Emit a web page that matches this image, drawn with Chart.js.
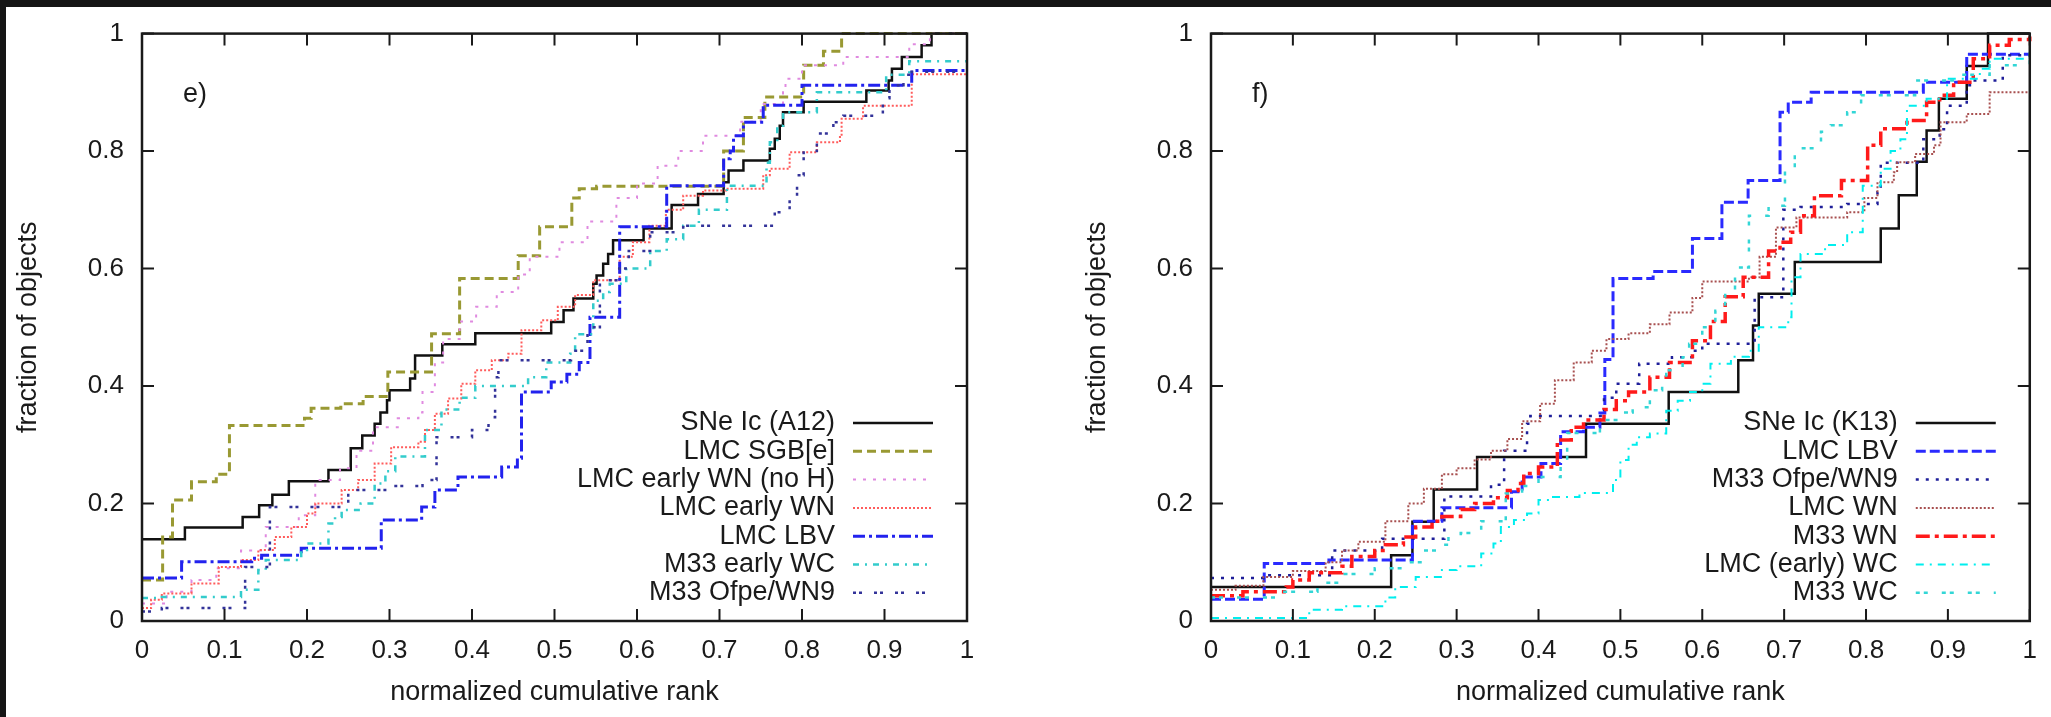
<!DOCTYPE html>
<html>
<head>
<meta charset="utf-8">
<script src="https://cdn.jsdelivr.net/npm/chart.js@4.4.1/dist/chart.umd.min.js"></script>
<style>
  html, body { margin: 0; padding: 0; background: #fff; }
  body { width: 2051px; height: 717px; position: relative; overflow: hidden; }
  #left-chart { position: absolute; left: 0; top: 0; }
  #right-chart { position: absolute; left: 1069px; top: 0; }
  .band-top { position: absolute; left: 0; top: 0; width: 2051px; height: 7px; background: #151515; }
  .band-left { position: absolute; left: 0; top: 0; width: 6px; height: 717px; background: #151515; }
</style>
</head>
<body>
<canvas id="left-chart" width="1069" height="717"></canvas>
<canvas id="right-chart" width="982" height="717"></canvas>
<div class="band-top"></div>
<div class="band-left"></div>
<script>
const xTickLabels = ['0', '0.1', '0.2', '0.3', '0.4', '0.5', '0.6', '0.7', '0.8', '0.9', '1'];
const yTickLabels = ['0', '0.2', '0.4', '0.6', '0.8', '1'];

// panel e)
const snA12X = [0, 0.052, 0.122, 0.142, 0.158, 0.178, 0.226, 0.253, 0.267, 0.282, 0.289, 0.297, 0.3, 0.325, 0.331, 0.364, 0.404, 0.496, 0.511, 0.523, 0.547, 0.551, 0.559, 0.565, 0.571, 0.608, 0.642, 0.674, 0.705, 0.711, 0.729, 0.761, 0.767, 0.773, 0.777, 0.802, 0.878, 0.905, 0.909, 0.921, 0.945, 0.957, 1];
const snA12Y = [0.139, 0.159, 0.177, 0.197, 0.215, 0.238, 0.257, 0.294, 0.316, 0.336, 0.355, 0.376, 0.393, 0.413, 0.452, 0.471, 0.49, 0.509, 0.529, 0.549, 0.574, 0.588, 0.608, 0.625, 0.648, 0.668, 0.708, 0.727, 0.747, 0.767, 0.784, 0.804, 0.821, 0.843, 0.866, 0.884, 0.903, 0.92, 0.94, 0.96, 0.98, 1, 1];
const sgbX = [0, 0.025, 0.037, 0.06, 0.09, 0.106, 0.197, 0.205, 0.241, 0.268, 0.298, 0.351, 0.385, 0.456, 0.482, 0.521, 0.53, 0.551, 0.705, 0.729, 0.755, 0.802, 0.826, 0.848, 1];
const sgbY = [0.07, 0.143, 0.206, 0.237, 0.25, 0.333, 0.345, 0.362, 0.37, 0.382, 0.424, 0.489, 0.583, 0.622, 0.671, 0.72, 0.736, 0.74, 0.8, 0.857, 0.892, 0.946, 0.97, 1, 1];
const earlyWnNoHX = [0, 0.03, 0.06, 0.09, 0.12, 0.15, 0.19, 0.21, 0.24, 0.26, 0.28, 0.31, 0.335, 0.34, 0.355, 0.365, 0.385, 0.405, 0.43, 0.456, 0.47, 0.506, 0.54, 0.575, 0.6, 0.625, 0.65, 0.68, 0.725, 0.75, 0.777, 0.78, 0.8, 0.85, 0.93, 0.955, 1];
const earlyWnNoHY = [0.03, 0.05, 0.07, 0.09, 0.12, 0.16, 0.18, 0.24, 0.26, 0.29, 0.33, 0.345, 0.355, 0.39, 0.44, 0.48, 0.51, 0.535, 0.56, 0.59, 0.62, 0.645, 0.68, 0.72, 0.745, 0.775, 0.8, 0.826, 0.85, 0.88, 0.9, 0.923, 0.946, 0.96, 0.982, 1, 1];
const earlyWnX = [0, 0.011, 0.024, 0.06, 0.093, 0.12, 0.141, 0.161, 0.181, 0.2, 0.21, 0.242, 0.262, 0.282, 0.302, 0.335, 0.343, 0.355, 0.371, 0.387, 0.404, 0.424, 0.444, 0.46, 0.484, 0.504, 0.525, 0.547, 0.579, 0.595, 0.615, 0.635, 0.656, 0.68, 0.708, 0.753, 0.761, 0.785, 0.818, 0.846, 0.848, 0.874, 0.933, 1];
const earlyWnY = [0.022, 0.036, 0.047, 0.064, 0.092, 0.104, 0.121, 0.143, 0.16, 0.183, 0.2, 0.223, 0.24, 0.268, 0.296, 0.305, 0.325, 0.353, 0.379, 0.404, 0.427, 0.444, 0.455, 0.495, 0.512, 0.535, 0.555, 0.58, 0.62, 0.645, 0.673, 0.7, 0.724, 0.733, 0.736, 0.759, 0.77, 0.798, 0.815, 0.826, 0.855, 0.877, 0.931, 0.934];
const lbvLeftX = [0, 0.048, 0.133, 0.145, 0.193, 0.29, 0.339, 0.355, 0.383, 0.436, 0.455, 0.46, 0.496, 0.515, 0.53, 0.543, 0.579, 0.636, 0.705, 0.713, 0.717, 0.729, 0.753, 0.8, 0.933, 1];
const lbvLeftY = [0.073, 0.101, 0.107, 0.112, 0.124, 0.172, 0.194, 0.223, 0.245, 0.262, 0.277, 0.39, 0.407, 0.42, 0.44, 0.517, 0.671, 0.741, 0.787, 0.8, 0.826, 0.849, 0.878, 0.912, 0.937, 0.937];
const earlyWcX = [0, 0.024, 0.12, 0.141, 0.15, 0.193, 0.2, 0.226, 0.234, 0.242, 0.265, 0.282, 0.295, 0.307, 0.343, 0.363, 0.385, 0.404, 0.468, 0.49, 0.519, 0.525, 0.547, 0.559, 0.567, 0.587, 0.616, 0.636, 0.656, 0.675, 0.709, 0.757, 0.761, 0.77, 0.777, 0.818, 0.902, 0.93, 1];
const earlyWcY = [0.039, 0.041, 0.053, 0.087, 0.104, 0.121, 0.132, 0.166, 0.177, 0.189, 0.2, 0.234, 0.255, 0.28, 0.325, 0.36, 0.38, 0.4, 0.415, 0.44, 0.455, 0.488, 0.545, 0.56, 0.574, 0.6, 0.63, 0.65, 0.673, 0.7, 0.741, 0.78, 0.815, 0.843, 0.866, 0.9, 0.93, 0.953, 0.953];
const ofpeLeftX = [0, 0.024, 0.125, 0.155, 0.25, 0.3, 0.34, 0.357, 0.4, 0.42, 0.428, 0.432, 0.52, 0.54, 0.555, 0.575, 0.59, 0.616, 0.656, 0.767, 0.785, 0.794, 0.802, 0.818, 0.838, 0.85, 0.898, 0.906, 0.923, 0.933, 1];
const ofpeLeftY = [0.016, 0.022, 0.092, 0.194, 0.223, 0.23, 0.24, 0.313, 0.325, 0.347, 0.415, 0.444, 0.46, 0.5, 0.58, 0.6, 0.63, 0.662, 0.673, 0.696, 0.719, 0.759, 0.8, 0.83, 0.849, 0.86, 0.89, 0.912, 0.93, 0.935, 0.935];

// panel f)
const snK13X = [0, 0.22, 0.246, 0.272, 0.325, 0.458, 0.559, 0.644, 0.662, 0.669, 0.713, 0.818, 0.84, 0.862, 0.874, 0.889, 0.923, 0.949, 1];
const snK13Y = [0.058, 0.112, 0.169, 0.224, 0.279, 0.336, 0.39, 0.444, 0.503, 0.557, 0.611, 0.668, 0.725, 0.782, 0.835, 0.889, 0.945, 1, 1];
const lbvRightX = [0, 0.065, 0.144, 0.246, 0.282, 0.367, 0.38, 0.403, 0.427, 0.455, 0.475, 0.481, 0.491, 0.54, 0.588, 0.624, 0.656, 0.695, 0.705, 0.733, 0.87, 0.923, 1];
const lbvRightY = [0.037, 0.098, 0.104, 0.17, 0.193, 0.22, 0.245, 0.268, 0.322, 0.33, 0.354, 0.445, 0.583, 0.595, 0.651, 0.713, 0.75, 0.866, 0.883, 0.9, 0.917, 0.965, 0.965];
const ofpeRightX = [0, 0.064, 0.148, 0.209, 0.285, 0.342, 0.358, 0.386, 0.39, 0.48, 0.495, 0.523, 0.563, 0.588, 0.6, 0.664, 0.699, 0.72, 0.777, 0.814, 0.818, 0.87, 0.89, 0.899, 0.923, 0.93, 0.967, 1];
const ofpeRightY = [0.073, 0.078, 0.12, 0.14, 0.212, 0.232, 0.29, 0.336, 0.349, 0.38, 0.404, 0.438, 0.449, 0.46, 0.472, 0.551, 0.7, 0.705, 0.71, 0.73, 0.78, 0.82, 0.837, 0.877, 0.912, 0.92, 0.963, 0.965];
const lmcWnX = [0, 0.03, 0.064, 0.1, 0.14, 0.16, 0.18, 0.213, 0.241, 0.26, 0.282, 0.3, 0.322, 0.342, 0.362, 0.38, 0.402, 0.42, 0.443, 0.465, 0.483, 0.51, 0.536, 0.56, 0.588, 0.6, 0.657, 0.67, 0.69, 0.715, 0.777, 0.798, 0.814, 0.834, 0.838, 0.86, 0.883, 0.891, 0.923, 0.951, 1];
const lmcWnY = [0.053, 0.06, 0.075, 0.085, 0.1, 0.12, 0.135, 0.17, 0.2, 0.225, 0.25, 0.26, 0.275, 0.29, 0.31, 0.34, 0.37, 0.41, 0.44, 0.46, 0.48, 0.49, 0.505, 0.525, 0.55, 0.578, 0.585, 0.62, 0.67, 0.687, 0.696, 0.72, 0.747, 0.764, 0.781, 0.795, 0.81, 0.849, 0.863, 0.9, 0.9];
const m33WnX = [0, 0.039, 0.092, 0.1, 0.12, 0.16, 0.172, 0.2, 0.213, 0.235, 0.25, 0.27, 0.282, 0.305, 0.322, 0.345, 0.362, 0.375, 0.382, 0.4, 0.423, 0.44, 0.455, 0.48, 0.495, 0.51, 0.536, 0.56, 0.588, 0.61, 0.628, 0.65, 0.681, 0.695, 0.708, 0.72, 0.737, 0.77, 0.802, 0.818, 0.85, 0.874, 0.89, 0.907, 0.931, 0.951, 0.975, 1];
const m33WnY = [0.043, 0.05, 0.058, 0.07, 0.082, 0.093, 0.11, 0.12, 0.13, 0.143, 0.16, 0.17, 0.178, 0.19, 0.2, 0.21, 0.222, 0.234, 0.251, 0.262, 0.308, 0.33, 0.342, 0.36, 0.375, 0.39, 0.415, 0.44, 0.477, 0.51, 0.552, 0.585, 0.63, 0.645, 0.662, 0.69, 0.724, 0.75, 0.81, 0.838, 0.852, 0.883, 0.895, 0.917, 0.957, 0.98, 0.99, 0.995];
const lmcWcX = [0, 0.12, 0.16, 0.213, 0.225, 0.25, 0.282, 0.3, 0.33, 0.345, 0.354, 0.37, 0.386, 0.4, 0.414, 0.45, 0.491, 0.5, 0.51, 0.52, 0.536, 0.556, 0.57, 0.585, 0.6, 0.61, 0.635, 0.657, 0.669, 0.705, 0.709, 0.72, 0.75, 0.777, 0.796, 0.818, 0.83, 0.842, 0.85, 0.874, 0.899, 0.939, 0.951, 1];
const lmcWcY = [0.005, 0.019, 0.025, 0.04, 0.058, 0.075, 0.087, 0.093, 0.115, 0.132, 0.16, 0.172, 0.183, 0.206, 0.211, 0.218, 0.24, 0.274, 0.3, 0.313, 0.319, 0.358, 0.375, 0.39, 0.404, 0.438, 0.45, 0.46, 0.5, 0.517, 0.585, 0.625, 0.64, 0.662, 0.741, 0.77, 0.8, 0.82, 0.877, 0.889, 0.923, 0.94, 0.957, 0.969];
const m33WcX = [0, 0.08, 0.13, 0.16, 0.2, 0.24, 0.26, 0.28, 0.29, 0.305, 0.33, 0.36, 0.38, 0.4, 0.427, 0.435, 0.475, 0.495, 0.515, 0.536, 0.551, 0.556, 0.576, 0.584, 0.6, 0.616, 0.628, 0.64, 0.657, 0.681, 0.701, 0.713, 0.721, 0.745, 0.757, 0.777, 0.786, 0.794, 0.86, 0.915, 0.951, 1];
const m33WcY = [0.04, 0.05, 0.065, 0.08, 0.09, 0.1, 0.12, 0.13, 0.145, 0.15, 0.17, 0.217, 0.23, 0.245, 0.268, 0.32, 0.342, 0.355, 0.364, 0.393, 0.415, 0.427, 0.449, 0.472, 0.5, 0.528, 0.562, 0.602, 0.69, 0.707, 0.77, 0.8, 0.805, 0.833, 0.844, 0.866, 0.878, 0.895, 0.92, 0.93, 0.946, 0.969];

const FONT = '"Liberation Sans", Arial, Helvetica, sans-serif';
const INK = '#1a1a1a';

const leftSeries = [
    { label: 'SNe Ic (A12)', xs: snA12X, ys: snA12Y, color: '#111111', width: 2.5, dash: [] },
    { label: 'LMC SGB[e]', xs: sgbX, ys: sgbY, color: '#999933', width: 3, dash: [9, 5] },
    { label: 'LMC early WN (no H)', xs: earlyWnNoHX, ys: earlyWnNoHY, color: '#e08ae0', width: 2, dash: [3, 7] },
    { label: 'LMC early WN', xs: earlyWnX, ys: earlyWnY, color: '#ff5c5c', width: 2, dash: [2, 2] },
    { label: 'LMC LBV', xs: lbvLeftX, ys: lbvLeftY, color: '#2222ee', width: 3, dash: [12, 4, 3, 4] },
    { label: 'M33 early WC', xs: earlyWcX, ys: earlyWcY, color: '#33cccc', width: 2.5, dash: [6, 6, 2, 6] },
    { label: 'M33 Ofpe/WN9', xs: ofpeLeftX, ys: ofpeLeftY, color: '#333399', width: 2.5, dash: [3, 3, 3, 12] }
];

const rightSeries = [
    { label: 'SNe Ic (K13)', xs: snK13X, ys: snK13Y, color: '#111111', width: 2.5, dash: [] },
    { label: 'LMC LBV', xs: lbvRightX, ys: lbvRightY, color: '#2a2aff', width: 3, dash: [10, 4] },
    { label: 'M33 Ofpe/WN9', xs: ofpeRightX, ys: ofpeRightY, color: '#1f1f99', width: 2.5, dash: [3, 7] },
    { label: 'LMC WN', xs: lmcWnX, ys: lmcWnY, color: '#a85050', width: 2, dash: [2, 2] },
    { label: 'M33 WN', xs: m33WnX, ys: m33WnY, color: '#ff1a1a', width: 3.5, dash: [14, 5, 4, 5] },
    { label: 'LMC (early) WC', xs: lmcWcX, ys: lmcWcY, color: '#00eeee', width: 2, dash: [8, 6, 2, 6] },
    { label: 'M33 WC', xs: m33WcX, ys: m33WcY, color: '#33d6d6', width: 2.5, dash: [4, 4, 4, 14] }
];

function stepData(xs, ys) {
    return xs.map((x, i) => ({ x: x, y: ys[i] }));
}

function buildPanel(canvasId, series, tag, padRight) {
    const datasets = series.map((s, i) => ({
        label: s.label,
        data: stepData(s.xs, s.ys),
        borderColor: s.color,
        borderWidth: s.width,
        borderDash: s.dash,
        stepped: true,
        pointRadius: 0,
        fill: false,
        order: series.length - i,
        clip: 3
    }));

    // frame with inward ticks on all four sides, key and panel tag
    const decor = {
        id: 'decor',
        afterDatasetsDraw(chart) {
            const { ctx, chartArea: a, scales: { x, y } } = chart;
            ctx.save();
            ctx.strokeStyle = INK;
            ctx.lineWidth = 2;
            ctx.setLineDash([]);
            ctx.beginPath();
            x.ticks.forEach(t => {
                const p = x.getPixelForValue(t.value);
                ctx.moveTo(p, a.bottom); ctx.lineTo(p, a.bottom - 12);
                ctx.moveTo(p, a.top); ctx.lineTo(p, a.top + 12);
            });
            y.ticks.forEach(t => {
                const p = y.getPixelForValue(t.value);
                ctx.moveTo(a.left, p); ctx.lineTo(a.left + 12, p);
                ctx.moveTo(a.right, p); ctx.lineTo(a.right - 12, p);
            });
            ctx.stroke();
            ctx.lineWidth = 2.5;
            ctx.strokeRect(a.left, a.top, a.right - a.left, a.bottom - a.top);
            ctx.restore();
        },
        afterDraw(chart) {
            const { ctx, chartArea: a } = chart;
            ctx.save();
            ctx.font = '27px ' + FONT;
            ctx.fillStyle = INK;
            ctx.textBaseline = 'middle';
            ctx.textAlign = 'left';
            ctx.fillText(tag, a.left + 41, a.top + 61);
            ctx.textAlign = 'right';
            series.forEach((s, i) => {
                const rowY = a.bottom - 198 + 28.3 * i;
                ctx.fillStyle = INK;
                ctx.fillText(s.label, a.right - 132, rowY);
                ctx.beginPath();
                ctx.strokeStyle = s.color;
                ctx.lineWidth = s.width;
                ctx.setLineDash(s.dash);
                ctx.moveTo(a.right - 114, rowY);
                ctx.lineTo(a.right - 34, rowY);
                ctx.stroke();
            });
            ctx.restore();
        }
    };

    return new Chart(document.getElementById(canvasId), {
        type: 'line',
        data: { datasets: datasets },
        plugins: [decor],
        options: {
            responsive: false,
            animation: false,
            devicePixelRatio: 1,
            layout: { padding: { top: 33, right: padRight, bottom: 0, left: 0 } },
            plugins: { legend: { display: false }, tooltip: { enabled: false } },
            scales: {
                x: {
                    type: 'linear',
                    min: 0,
                    max: 1,
                    afterFit: s => { s.height = 96; },
                    grid: { display: false, drawTicks: false },
                    border: { display: false },
                    ticks: {
                        stepSize: 0.1,
                        autoSkip: false,
                        maxRotation: 0,
                        padding: 14,
                        color: INK,
                        font: { family: FONT, size: 26 },
                        callback: (v, i) => xTickLabels[i]
                    },
                    title: {
                        display: true,
                        text: 'normalized cumulative rank',
                        color: INK,
                        font: { family: FONT, size: 27 },
                        padding: { top: 0, bottom: 8 }
                    }
                },
                y: {
                    type: 'linear',
                    min: 0,
                    max: 1,
                    afterFit: s => { s.width = 142; },
                    grid: { display: false, drawTicks: false },
                    border: { display: false },
                    ticks: {
                        stepSize: 0.2,
                        padding: 18,
                        color: INK,
                        font: { family: FONT, size: 26 },
                        callback: (v, i) => yTickLabels[i]
                    },
                    title: {
                        display: true,
                        text: 'fraction of objects',
                        color: INK,
                        font: { family: FONT, size: 27 },
                        padding: { top: 12, bottom: 0 }
                    }
                }
            }
        }
    });
}

buildPanel('left-chart', leftSeries, 'e)', 102);
buildPanel('right-chart', rightSeries, 'f)', 14);
</script>
</body>
</html>
